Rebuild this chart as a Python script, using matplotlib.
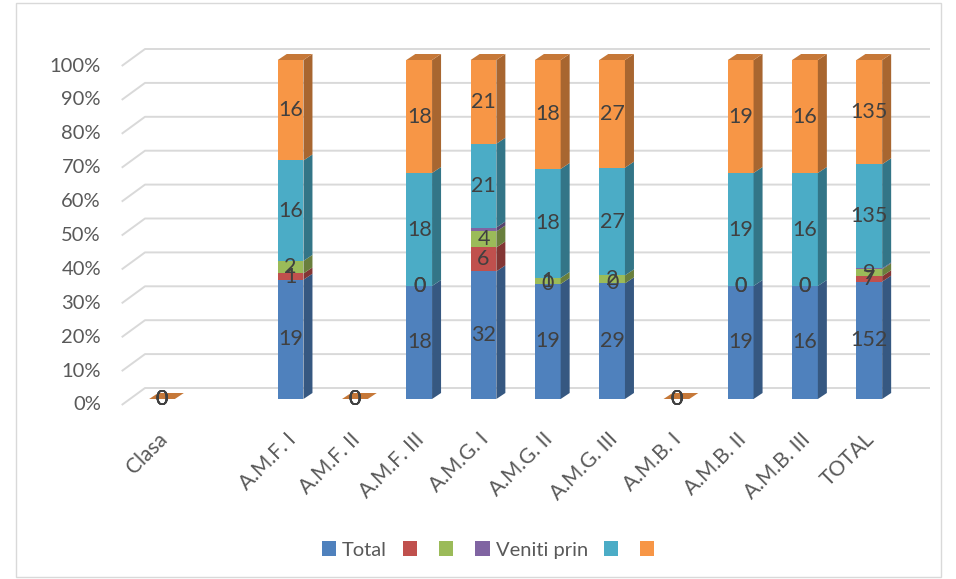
import numpy as np
import matplotlib
matplotlib.use("Agg")
import matplotlib.pyplot as plt
from matplotlib.patches import Polygon, Patch, Rectangle
from matplotlib.colors import to_rgb
from matplotlib.transforms import ScaledTranslation

plt.rcParams['font.family'] = ['Lato', 'DejaVu Sans']

categories = ["Clasa", "", "A.M.F. I", "A.M.F. II", "A.M.F. III", "A.M.G. I",
              "A.M.G. II", "A.M.G. III", "A.M.B. I", "A.M.B. II", "A.M.B. III", "TOTAL"]
series_names = ["Total", "", "", "Veniti prin", "", ""]
nan = np.nan
s_total  = [0, nan, 19, 0, 18, 32, 19, 29, 0, 19, 16, 152]
s_red    = [0, nan, 1, 0, 0, 6, 0, 0, 0, 0, 0, 7]
s_green  = [0, nan, 2, 0, 0, 4, 1, 2, 0, 0, 0, 9]
s_purple = [0, nan, 0, 0, 0, 1, 0, 0, 0, 0, 0, 1]
s_teal   = [0, nan, 16, 0, 18, 21, 18, 27, 0, 19, 16, 135]
s_orange = [0, nan, 16, 0, 18, 21, 18, 27, 0, 19, 16, 135]
series = [s_total, s_red, s_green, s_purple, s_teal, s_orange]
show_labels = [True, True, True, False, True, True]
colors = ["#4F81BD", "#C0504D", "#9BBB59", "#8064A2", "#4BACC6", "#F79646"]
yticks = [0, 10, 20, 30, 40, 50, 60, 70, 80, 90, 100]

W, H = 956, 579
fig = plt.figure(figsize=(W / 100, H / 100), dpi=100)
L, R, T, B = 129.85, 901.45, 60.0, 399.0
ax = fig.add_axes([L / W, (H - B) / H, (R - L) / W, (B - T) / H])
ax.set_xlim(-0.5, 11.5)
ax.set_ylim(0, 100)
PX = (R - L) / 12.0
PY = (B - T) / 100.0
x0px = L + 0.5 * PX

for s in ax.spines.values():
    s.set_visible(False)

# chart border
fig.patches.append(Rectangle((15.5 / W, 2.5 / H), (941 - 15.5) / W, (576 - 2.5) / H,
                             transform=fig.transFigure, fill=False,
                             edgecolor="#D9D9D9", lw=1.0))

# 3D wall gridlines
gx = [(121.7 - x0px) / PX, (145 - x0px) / PX, (930 - x0px) / PX]
for v in yticks:
    ax.plot(gx, [v - 6 / PY, v + 11 / PY, v + 11 / PY], color="#D9D9D9", lw=1.4,
            zorder=0, clip_on=False, solid_capstyle='butt')
    ax.text((101 - x0px) / PX, v - 6 / PY, f"{v}%", ha="right", va="center",
            fontsize=14.5, color="#595959", clip_on=False)

def shade(c, f):
    r, g, b = to_rgb(c)
    return (r * f, g * f, b * f)

vals = np.array(series, dtype=float)
x = np.arange(len(categories))
bw = 0.4
dx = 9 / PX
dy = 6 / PY
for i in x:
    col = vals[:, i]
    if np.all(np.isnan(col)):
        continue
    tot = np.nansum(col)
    pct = col / tot * 100 if tot > 0 else np.zeros_like(col)
    bottom = 0.0
    for k in range(len(series)):
        h = pct[k]
        if h > 0:
            ax.bar(i, h, bw, bottom=bottom, color=colors[k], zorder=2, linewidth=0)
            xr = i + bw / 2
            ax.add_patch(Polygon([(xr, bottom), (xr + dx, bottom + dy), (xr + dx, bottom + h + dy),
                                  (xr, bottom + h)], closed=True, facecolor=shade(colors[k], 0.68),
                                 edgecolor="none", zorder=2, clip_on=False))
        bottom += h
    # top face
    xl = i - bw / 2
    xr = i + bw / 2
    ax.add_patch(Polygon([(xl, bottom), (xr, bottom), (xr + dx, bottom + dy), (xl + dx, bottom + dy)],
                         closed=True, facecolor=shade(colors[-1], 0.8), edgecolor="none",
                         zorder=3, clip_on=False))
    bottom = 0.0
    for k in range(len(series)):
        h = pct[k]
        if show_labels[k]:
            ax.text(i, bottom + h / 2, f"{int(col[k])}", ha="center", va="center",
                    fontsize=15.5, color="#404040", zorder=5, clip_on=False)
        bottom += h

ax.set_xticks(x)
ax.set_xticklabels(categories, rotation=45, ha="right", rotation_mode="anchor",
                   fontsize=15, color="#595959")
ax.set_yticks([])
ax.tick_params(axis="x", length=0, pad=21)
off = ScaledTranslation(-0.05, -0.01, fig.dpi_scale_trans)
for lab in ax.get_xticklabels():
    lab.set_transform(lab.get_transform() + off)

handles = [Patch(facecolor=c, edgecolor="none") for c in colors]
fig.legend(handles, series_names, loc="center", bbox_to_anchor=(491 / W, (H - 550) / H),
           ncol=6, frameon=False, fontsize=14.5, handlelength=0.7, handleheight=0.7,
           handletextpad=0.3, columnspacing=0.8, labelcolor="#595959")

fig.savefig("out.png", dpi=100)
